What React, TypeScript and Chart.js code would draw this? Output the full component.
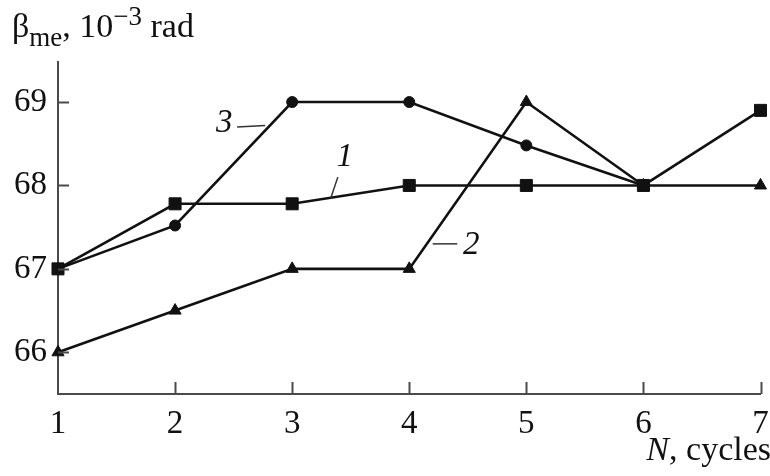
import React, { useEffect, useRef } from "react";
import { Chart, registerables } from "chart.js";

Chart.register(...registerables);

// ---- data ----
const cycles = [1, 2, 3, 4, 5, 6, 7];
const series1 = [67, 67.78, 67.78, 68, 68, 68, 68.9]; // squares, curve 1
const series2 = [66, 66.5, 67, 67, 69, 68, 68]; // triangles, curve 2
const series3 = [67, 67.52, 69, 69, 68.48, 68]; // circles, curve 3
const xTicks = [1, 2, 3, 4, 5, 6, 7];
const yTicks = [66, 67, 68, 69];
const yRange = [65.5, 69.48];

// curve labels (data coordinates): text, label x, label y, leader from (x,y) to (x,y)
const curveLabels = ["1", "2", "3"];
const curveLabelX = [3.45, 4.53, 2.42];
const curveLabelY = [68.34, 67.28, 68.74];
const leaderX1 = [3.39, 4.2, 2.53];
const leaderY1 = [68.1, 67.3, 68.7];
const leaderX2 = [3.33, 4.41, 2.77];
const leaderY2 = [67.85, 67.3, 68.72];

const SERIF = '"Liberation Serif", "DejaVu Serif", serif';
const INK = "#111";
const AXIS = "#4a4a4a";

const decor = {
  id: "decor",
  afterDraw(chart: any) {
    const { ctx, chartArea } = chart;
    const x = chart.scales.x;
    const y = chart.scales.y;
    ctx.save();
    // inward ticks
    ctx.strokeStyle = AXIS;
    ctx.lineWidth = 2;
    xTicks.forEach((v) => {
      if (v === xTicks[0]) return;
      const px = Math.round(x.getPixelForValue(v)) + 0.5;
      ctx.beginPath();
      ctx.moveTo(px, chartArea.bottom);
      ctx.lineTo(px, chartArea.bottom - 12);
      ctx.stroke();
    });
    yTicks.forEach((v) => {
      const py = Math.round(y.getPixelForValue(v)) + 0.5;
      ctx.beginPath();
      ctx.moveTo(chartArea.left, py);
      ctx.lineTo(chartArea.left + 11, py);
      ctx.stroke();
    });

    // curve labels with leader lines
    ctx.strokeStyle = "#333";
    ctx.lineWidth = 1.5;
    ctx.fillStyle = INK;
    ctx.font = `italic 33px ${SERIF}`;
    ctx.textAlign = "center";
    ctx.textBaseline = "middle";
    curveLabels.forEach((t, i) => {
      ctx.beginPath();
      ctx.moveTo(x.getPixelForValue(leaderX1[i]), y.getPixelForValue(leaderY1[i]));
      ctx.lineTo(x.getPixelForValue(leaderX2[i]), y.getPixelForValue(leaderY2[i]));
      ctx.stroke();
      ctx.fillText(t, x.getPixelForValue(curveLabelX[i]), y.getPixelForValue(curveLabelY[i]));
    });

    // y-axis title: β_me, 10^-3 rad
    ctx.textAlign = "left";
    ctx.textBaseline = "alphabetic";
    const parts: [string, string, number][] = [
      ["β", `34px ${SERIF}`, 37],
      ["me", `27px ${SERIF}`, 46],
      [", 10", `34px ${SERIF}`, 37],
      ["−3", `27px ${SERIF}`, 25],
      [" rad", `34px ${SERIF}`, 37],
    ];
    let cx = 12;
    parts.forEach(([t, f, b]) => {
      ctx.font = f;
      ctx.fillText(t, cx, b);
      cx += ctx.measureText(t).width;
    });

    // x-axis title: N, cycles
    ctx.font = `34px ${SERIF}`;
    const rest = ", cycles";
    const wRest = ctx.measureText(rest).width;
    ctx.textAlign = "right";
    ctx.fillText(rest, 771, 460);
    ctx.font = `italic 34px ${SERIF}`;
    ctx.fillText("N", 771 - wRest, 460);
    ctx.restore();
  },
};

export default function App() {
  const ref = useRef<HTMLCanvasElement | null>(null);
  useEffect(() => {
    document.body.style.margin = "0";
    const toPts = (arr: number[]) => arr.map((v, i) => ({ x: cycles[i], y: v }));
    const common = {
      borderColor: INK,
      backgroundColor: INK,
      pointBackgroundColor: INK,
      pointBorderColor: INK,
      borderWidth: 2.6,
      pointBorderWidth: 1,
      tension: 0,
      clip: false as any,
    };
    const chart = new Chart(ref.current as HTMLCanvasElement, {
      type: "line",
      data: {
        datasets: [
          { ...common, label: "3", data: toPts(series3), pointStyle: "circle", pointRadius: 5.5 },
          { ...common, label: "2", data: toPts(series2), pointStyle: "triangle", pointRadius: 7 },
          { ...common, label: "1", data: toPts(series1), pointStyle: "rect", pointRadius: 8.5 },
        ],
      },
      options: {
        animation: false,
        responsive: false,
        layout: { padding: { top: 62, right: 0, left: 0, bottom: 0 } },
        plugins: { legend: { display: false }, tooltip: { enabled: false } },
        scales: {
          x: {
            type: "linear",
            min: xTicks[0],
            max: xTicks[xTicks.length - 1],
            afterBuildTicks: (s: any) => {
              s.ticks = xTicks.map((v) => ({ value: v }));
            },
            afterFit: (s: any) => {
              s.height = 82;
              s.paddingRight = 8;
              s.paddingLeft = 0;
            },
            grid: { display: false, drawTicks: false },
            border: { display: true, color: AXIS, width: 2 },
            ticks: {
              color: INK,
              font: { family: SERIF, size: 33 },
              padding: 11,
              maxRotation: 0,
              autoSkip: false,
            },
          },
          y: {
            type: "linear",
            min: yRange[0],
            max: yRange[1],
            afterBuildTicks: (s: any) => {
              s.ticks = yTicks.map((v) => ({ value: v }));
            },
            afterFit: (s: any) => {
              s.width = 58;
            },
            grid: { display: false, drawTicks: false },
            border: { display: true, color: AXIS, width: 2 },
            ticks: {
              color: INK,
              font: { family: SERIF, size: 33 },
              padding: 11,
              autoSkip: false,
            },
          },
        },
      },
      plugins: [decor],
    });
    return () => chart.destroy();
  }, []);
  return (
    <div style={{ width: 770, height: 476, background: "#fff" }}>
      <canvas ref={ref} width={770} height={476} />
    </div>
  );
}
